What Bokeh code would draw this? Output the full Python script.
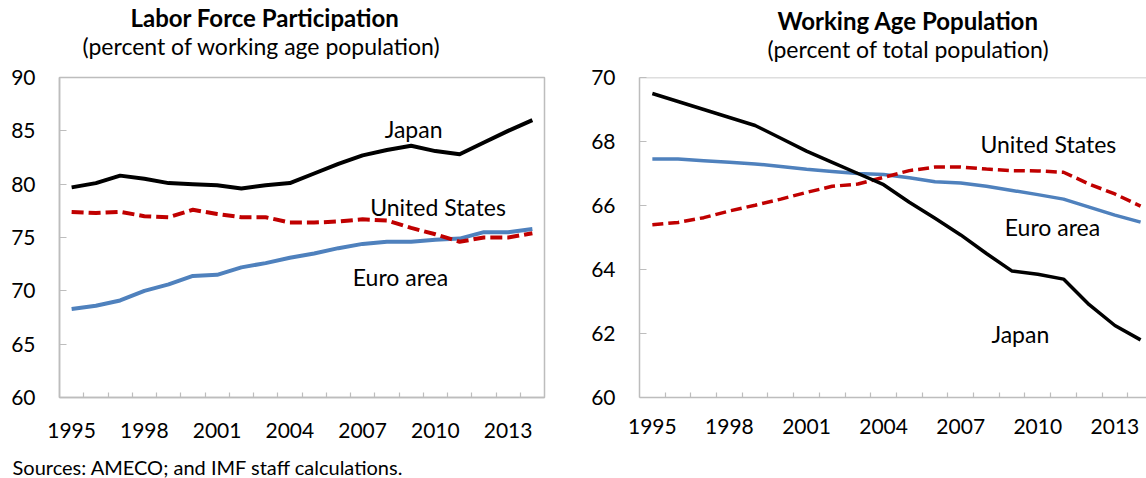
from bokeh.plotting import figure
from bokeh.layouts import row
from bokeh.models import FixedTicker, Label, Span, Range1d, Title
from bokeh.embed import file_html
from bokeh.resources import INLINE

years = list(range(1995, 2015))
tick_years = [1995, 1998, 2001, 2004, 2007, 2010, 2013]

# Labor force participation (percent of working age population)
lfp_japan = [79.7, 80.1, 80.8, 80.5, 80.1, 80.0, 79.9, 79.6, 79.9, 80.1,
             81.0, 81.9, 82.7, 83.2, 83.6, 83.1, 82.8, 83.9, 85.0, 86.0]
lfp_us = [77.4, 77.3, 77.4, 77.0, 76.9, 77.6, 77.2, 76.9, 76.9, 76.4,
          76.4, 76.5, 76.7, 76.6, 75.9, 75.3, 74.6, 75.0, 75.0, 75.4]
lfp_euro = [68.3, 68.6, 69.1, 70.0, 70.6, 71.4, 71.5, 72.2, 72.6, 73.1,
            73.5, 74.0, 74.4, 74.6, 74.6, 74.8, 74.9, 75.5, 75.5, 75.8]

# Working age population (percent of total population)
wap_japan = [69.5, 69.25, 69.0, 68.75, 68.5, 68.1, 67.7, 67.35, 67.0, 66.65,
             66.1, 65.6, 65.08, 64.5, 63.95, 63.85, 63.7, 62.9, 62.25, 61.8]
wap_us = [65.4, 65.47, 65.62, 65.83, 66.01, 66.2, 66.41, 66.6, 66.67, 66.88,
          67.09, 67.2, 67.2, 67.14, 67.09, 67.08, 67.04, 66.67, 66.36, 65.98]
wap_euro = [67.45, 67.45, 67.4, 67.35, 67.3, 67.22, 67.13, 67.06, 67.0, 66.97,
            66.87, 66.74, 66.7, 66.6, 66.47, 66.34, 66.2, 65.95, 65.7, 65.48]

FONT = "Lato"
GRAY = "#BDBDBD"
BLACK = "#000000"
RED = "#C00000"
BLUE = "#4F81BD"


def style(p, yticks, xstand):
    p.xgrid.visible = False
    p.ygrid.visible = False
    p.background_fill_color = "white"
    p.border_fill_color = "white"
    xa = p.xaxis[0]
    xa.ticker = FixedTicker(ticks=tick_years, minor_ticks=[y + 0.5 for y in years[:-1]])
    xa.major_tick_in = 0
    xa.major_tick_out = 0
    xa.minor_tick_in = 5
    xa.minor_tick_out = 0
    xa.minor_tick_line_color = GRAY
    xa.minor_tick_line_width = 1.2
    xa.axis_line_color = GRAY
    xa.axis_line_width = 1.5
    xa.major_label_text_font = FONT
    xa.major_label_text_font_size = "21px"
    xa.major_label_text_color = BLACK
    xa.major_label_standoff = xstand
    ya = p.yaxis[0]
    ya.ticker = FixedTicker(ticks=yticks)
    ya.major_tick_in = 7
    ya.major_tick_out = 0
    ya.minor_tick_in = 0
    ya.minor_tick_out = 0
    ya.major_tick_line_color = GRAY
    ya.major_tick_line_width = 1.2
    ya.axis_line_color = GRAY
    ya.axis_line_width = 1.5
    ya.major_label_text_font = FONT
    ya.major_label_text_font_size = "21px"
    ya.major_label_text_color = BLACK
    ya.major_label_standoff = 24


def lab(p, x, y, text, size="23px"):
    p.add_layout(Label(x=x, y=y, text=text, text_font=FONT, text_font_size=size,
                       text_align="center", text_baseline="middle", text_color=BLACK))


def titles(p, main, sub, off_main, off_sub, stand_sub, stand_main):
    # first title added sits next to the frame; the next one stacks above it
    p.add_layout(Title(text=sub, align="left", offset=off_sub, text_font=FONT,
                       text_font_size="23px", text_font_style="normal",
                       text_color=BLACK, standoff=stand_sub), "above")
    p.add_layout(Title(text=main, align="left", offset=off_main, text_font=FONT,
                       text_font_size="24px", text_font_style="bold",
                       text_color=BLACK, standoff=stand_main), "above")


# ---------------- Left panel ----------------
p1 = figure(width=580, height=478, x_range=Range1d(1994.5, 2014.5), y_range=Range1d(60, 90),
            output_backend="svg", toolbar_location=None, title=None,
            min_border_left=59, min_border_right=36, min_border_top=77, min_border_bottom=81)
style(p1, [60, 65, 70, 75, 80, 85, 90], 25)
p1.outline_line_color = GRAY
p1.outline_line_width = 1.5

p1.line(years, lfp_euro, line_color=BLUE, line_width=4, line_join="round")
p1.line(years, lfp_us, line_color=RED, line_width=4, line_dash="12 5")
p1.line(years, lfp_japan, line_color=BLACK, line_width=4, line_join="round")

titles(p1, "Labor Force Participation", "(percent of working age population)", 71, 23, 35.6, -41.9)
# blank spacer between the year labels and the source note
p1.add_layout(Title(text=" ", align="left", text_font=FONT, text_font_size="10px",
                    text_color=BLACK, standoff=0), "below")
p1.add_layout(Title(text="Sources: AMECO; and IMF staff calculations.", align="left", offset=-47,
                    text_font=FONT, text_font_size="20px", text_font_style="normal",
                    text_color=BLACK, standoff=-4), "below")

lab(p1, 2009.1, 85.14, "Japan")
lab(p1, 2010.11, 77.9, "United States")
lab(p1, 2008.56, 71.3, "Euro area")

# ---------------- Right panel ----------------
p2 = figure(width=566, height=478, x_range=Range1d(1994.5, 2014.23), y_range=Range1d(60, 70),
            output_backend="svg", toolbar_location=None, title=None,
            min_border_left=59, min_border_right=0, min_border_top=77, min_border_bottom=81)
style(p2, [60, 62, 64, 66, 68, 70], 21)
p2.outline_line_color = None
p2.add_layout(Span(location=70, dimension="width", line_color=GRAY, line_width=1.5))

p2.line(years, wap_euro, line_color=BLUE, line_width=3.5, line_join="round")
p2.line(years, wap_us, line_color=RED, line_width=3.5, line_dash="11 5")
p2.line(years, wap_japan, line_color=BLACK, line_width=3.5, line_join="round")

titles(p2, "Working Age Population", "(percent of total population)", 138, 128, 29.6, -35.9)

lab(p2, 2010.41, 67.93, "United States")
lab(p2, 2010.57, 65.33, "Euro area")
lab(p2, 2009.32, 61.97, "Japan")

layout = row(p1, p2)
open("out.html", "w").write(file_html(layout, INLINE))
